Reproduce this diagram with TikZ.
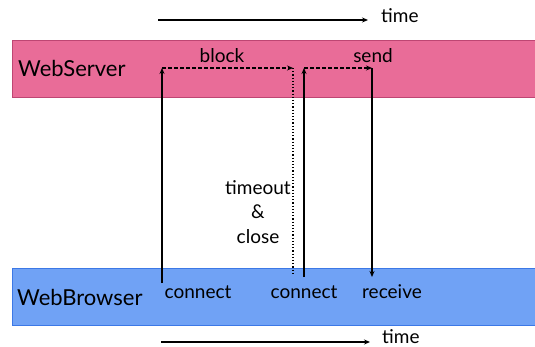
\documentclass[tikz,border=0pt]{standalone}
\usepackage{fontspec}
\setmainfont{Lato}
\usetikzlibrary{arrows.meta}
\definecolor{serverpink}{RGB}{233,108,152}
\definecolor{serverline}{RGB}{190,70,115}
\definecolor{browserblue}{RGB}{112,162,245}
\definecolor{browserline}{RGB}{60,120,230}
\tikzset{
    lbl/.style={inner sep=0pt, font=\fontsize{19}{24.5}\selectfont},
    bandlbl/.style={inner sep=0pt, anchor=west, font=\fontsize{22}{24}\selectfont},
    msg/.style={line width=1.2pt, -{Stealth[length=6pt,width=5pt]}},
    waiting/.style={line width=1.1pt, dash pattern=on 3.5pt off 2.5pt, -{Stealth[length=6pt,width=5pt]}}
}
\begin{document}
\begin{tikzpicture}[x=1pt,y=-1pt]
    \useasboundingbox (0,0) rectangle (535,347);
    % the two bands
    \filldraw[fill=serverpink, draw=serverline] (12,40) rectangle (540,97);
    \filldraw[fill=browserblue, draw=browserline] (12,268) rectangle (540,325);
    \node[bandlbl, anchor=base west] (server) at (18,77) {WebServer};
    \node[bandlbl, anchor=base west] (browser) at (17,305) {WebBrowser};

    % time axes
    \coordinate (t1a) at (158,20); \coordinate (t1b) at (368,20);
    \coordinate (t2a) at (161,342); \coordinate (t2b) at (370,342);
    \node[lbl, anchor=base west] (time1) at (381,23) {time};
    \node[lbl, anchor=base west] (time2) at (382,343) {time};
    \draw[msg] (t1a) -- (t1b);
    \draw[msg] (t2a) -- (t2b);

    % events
    \coordinate (con1) at (162,283); \coordinate (acc1) at (162,68);
    \coordinate (blk) at (293,68);   \coordinate (cls) at (293,273);
    \coordinate (con2) at (304,277); \coordinate (acc2) at (304,68);
    \coordinate (snd) at (372,68);   \coordinate (rcv) at (372,277);

    \node[lbl] (block) at (222,56) {block};
    \node[lbl] (send) at (373,56) {send};
    \node[lbl] (connect1) at (198,292) {connect};
    \node[lbl] (connect2) at (304,292) {connect};
    \node[lbl] (receive) at (392,292) {receive};
    \node[lbl, align=center] (timeout) at (258,212) {timeout\\\&\\close};

    \draw[msg] (con1) -- (acc1);
    \draw[waiting] (acc1) -- (blk);
    \draw[line width=1.2pt, dotted] (blk) -- (cls);
    \draw[msg] (con2) -- (acc2);
    \draw[waiting] (acc2) -- (snd);
    \draw[msg] (snd) -- (rcv);
\end{tikzpicture}
\end{document}
